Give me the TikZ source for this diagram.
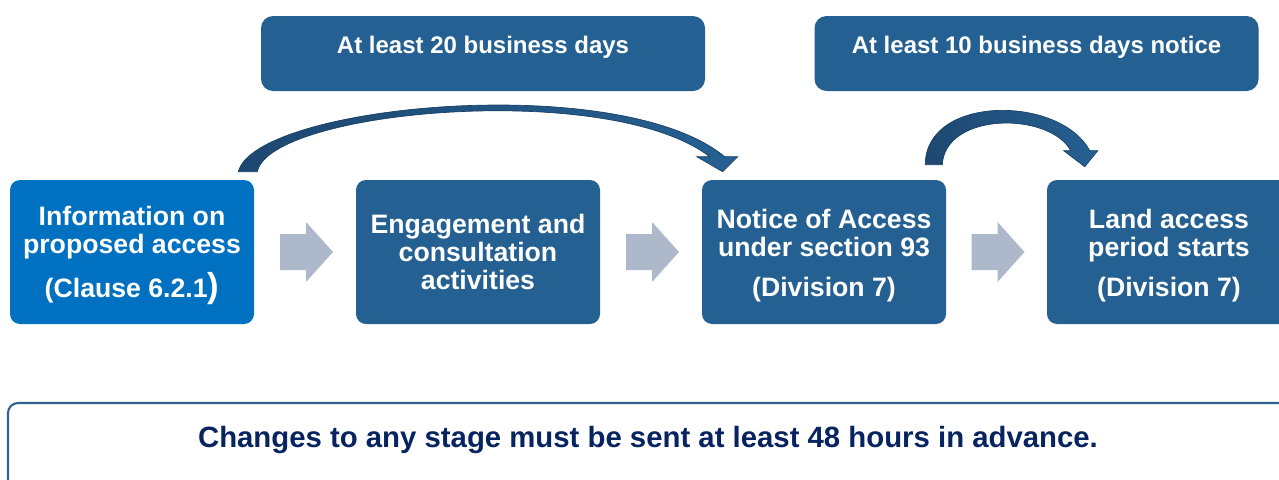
\documentclass[tikz,border=0pt]{standalone}
\usepackage{fontspec}
\setmainfont{Liberation Sans}
\usetikzlibrary{calc}

\definecolor{infoblue}{RGB}{0,112,192}
\definecolor{stepblue}{RGB}{36,96,145}
\definecolor{arcdark}{RGB}{29,72,113}
\definecolor{arclight}{RGB}{38,96,146}
\definecolor{arcedge}{RGB}{24,62,98}
\definecolor{gapgray}{RGB}{173,185,202}
\definecolor{noteedge}{RGB}{45,98,145}
\definecolor{notetext}{RGB}{8,36,96}

\newcommand{\stagestrut}{\rule{0pt}{19.5pt}}

\tikzset{
  stagebox/.style={rectangle, rounded corners=7.5pt, fill=stepblue, text=white,
    minimum width=183pt, minimum height=108pt, inner sep=0pt, align=center,
    font=\bfseries\fontsize{20pt}{21pt}\selectfont},
  spanbox/.style={rectangle, rounded corners=9pt, fill=stepblue, text=white,
    minimum width=333pt, minimum height=56.25pt, inner sep=0pt,
    text height=0pt, text depth=0pt, font=\bfseries\fontsize{18pt}{20pt}\selectfont},
  notebox/.style={rectangle, rounded corners=7.5pt, draw=noteedge, line width=1.6pt,
    fill=white, text=notetext, minimum width=960pt, minimum height=66pt,
    inner sep=0pt, text height=0pt, text depth=0pt,
    font=\bfseries\fontsize{22pt}{24pt}\selectfont},
  curvearrow/.style={left color=arcdark, right color=arclight, draw=arcedge, line width=0.5pt},
  gaparrow/.pic={
    \fill[gapgray] (-25,-18) -- (1,-18) -- (1,-30) -- (28,0) -- (1,30) -- (1,18) -- (-25,18) -- cycle;
  }
}

\begin{document}
\begin{tikzpicture}[x=0.75pt,y=-0.75pt]
\useasboundingbox (0,0) rectangle (1279,479);
\clip (0,0) rectangle (1279,479);

% the four stages
\node[stagebox, fill=infoblue] (info) at (132,252)
  {\stagestrut Information on\\proposed access\\[9pt](Clause 6.2.1{\fontsize{26pt}{21pt}\selectfont)}};
\node[stagebox] (engage) at (478,252) {Engagement and\\consultation\\activities};
\node[stagebox] (notice) at (824,252) {\stagestrut Notice of Access\\under section 93\\[9pt](Division 7)};
\node[stagebox] (landacc) at (1169,252) {\stagestrut Land access\\period starts\\[9pt](Division 7)};

\pic at ($(info.east)!0.5!(engage.west)$) {gaparrow};
\pic at ($(engage.east)!0.5!(notice.west)$) {gaparrow};
\pic at ($(notice.east)!0.5!(landacc.west)$) {gaparrow};

% time spans above
\node[spanbox] (span20) at (483,53.5) {At least 20 business days};
\node[spanbox] (span10) at (1036.5,53.5) {At least 10 business days notice};

% curved arrows over the stages
\path[curvearrow]
  ($(info.north east)+(-16,-8)$) .. controls +(17,-67) and +(-105,-87) .. ($(notice.north west)+(23,-23)$)
  -- ($(notice.north west)+(36,-23)$) -- ($(notice.north west)+(21,-8)$)
  -- ($(notice.north west)+(-5,-23)$) -- ($(notice.north west)+(8,-23)$)
  .. controls +(-100,-77) and +(13,-62) .. ($(info.north east)+(3,-8)$) -- cycle;
\path[curvearrow]
  ($(notice.north east)+(-21,-15)$) .. controls +(0,-70) and +(-30,-56) .. ($(landacc.north west)+(43,-29)$)
  -- ($(landacc.north west)+(51,-29)$) -- ($(landacc.north west)+(38,-13)$)
  -- ($(landacc.north west)+(17,-29)$) -- ($(landacc.north west)+(24,-29)$)
  .. controls +(-21,-39) and +(3,-53) .. ($(notice.north east)+(-4,-15)$) -- cycle;

\node[notebox] (changes) at (648,447) {Changes to any stage must be sent at least 48 hours in advance.};
\end{tikzpicture}
\end{document}
